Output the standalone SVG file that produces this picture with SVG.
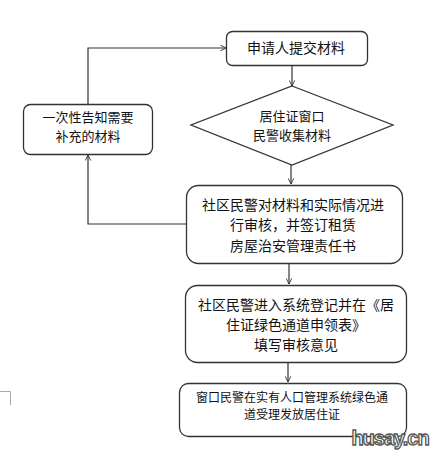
<svg xmlns="http://www.w3.org/2000/svg" width="442" height="455" viewBox="0 0 442 455">
<style>
.box{fill:#fff;stroke:#333;stroke-width:1.3}
.t{font-family:"Noto Sans CJK SC","Liberation Sans",sans-serif;font-size:14px;fill:#111;text-anchor:middle}
.m{font-size:13px}
.s{font-size:12px}
.c{fill:none;stroke:#333;stroke-width:1.2}
</style>
<defs>
<marker id="a" viewBox="0 0 10 10" refX="9" refY="5" markerWidth="7" markerHeight="7" orient="auto" markerUnits="userSpaceOnUse">
<path d="M1,1 L9,5 L1,9" fill="none" stroke="#333" stroke-width="1.3"/>
</marker>
</defs>
<rect width="442" height="455" fill="#fff"/>
<g id="connectors">
<path class="c" d="M292,65 V86" marker-end="url(#a)"/>
<path class="c" d="M291,165 V184" marker-end="url(#a)"/>
<path class="c" d="M289,263 V284" marker-end="url(#a)"/>
<path class="c" d="M288,363 V382" marker-end="url(#a)"/>
<path class="c" d="M186,224 H88 V155" marker-end="url(#a)"/>
<path class="c" d="M88,104 V48 H226" marker-end="url(#a)"/>
</g>
<g id="n1">
<rect class="box" x="226.5" y="31.5" width="141" height="34" rx="6"/>
<text class="t" x="296" y="53">申请人提交材料</text>
</g>
<g id="n2">
<polygon class="box" points="292,86 393,125 292,165 191,125"/>
<text class="t m" x="292" y="121">居住证窗口</text>
<text class="t m" x="292" y="139.5">民警收集材料</text>
</g>
<g id="n3">
<rect class="box" x="23.5" y="104.5" width="129" height="50" rx="7"/>
<text class="t m" x="88" y="122">一次性告知需要</text>
<text class="t m" x="88" y="140.5">补充的材料</text>
</g>
<g id="n4">
<rect class="box" x="186.5" y="185.5" width="216" height="78" rx="12"/>
<text class="t" x="293" y="210">社区民警对材料和实际情况进</text>
<text class="t" x="293" y="230">行审核，并签订租赁</text>
<text class="t" x="293" y="251">房屋治安管理责任书</text>
</g>
<g id="n5">
<rect class="box" x="185.5" y="285.5" width="221" height="77" rx="12"/>
<text class="t" x="296" y="310">社区民警进入系统登记并在《居</text>
<text class="t" x="296" y="330">住证绿色通道申领表》</text>
<text class="t" x="296" y="350">填写审核意见</text>
</g>
<g id="n6">
<rect class="box" x="179.5" y="383.5" width="227" height="53" rx="9"/>
<text class="t s" x="292" y="402">窗口民警在实有人口管理系统绿色通</text>
<text class="t s" x="292" y="419">道受理发放居住证</text>
</g>
<path d="M0,391.5 H10.5 V405" fill="none" stroke="#aaa" stroke-width="1"/>
<text x="390" y="445" font-family="'Liberation Sans',sans-serif" font-size="20" font-weight="bold" text-anchor="middle" fill="#fff" stroke="#555" stroke-width="1.3" letter-spacing="-1">husay.cn</text>
</svg>
